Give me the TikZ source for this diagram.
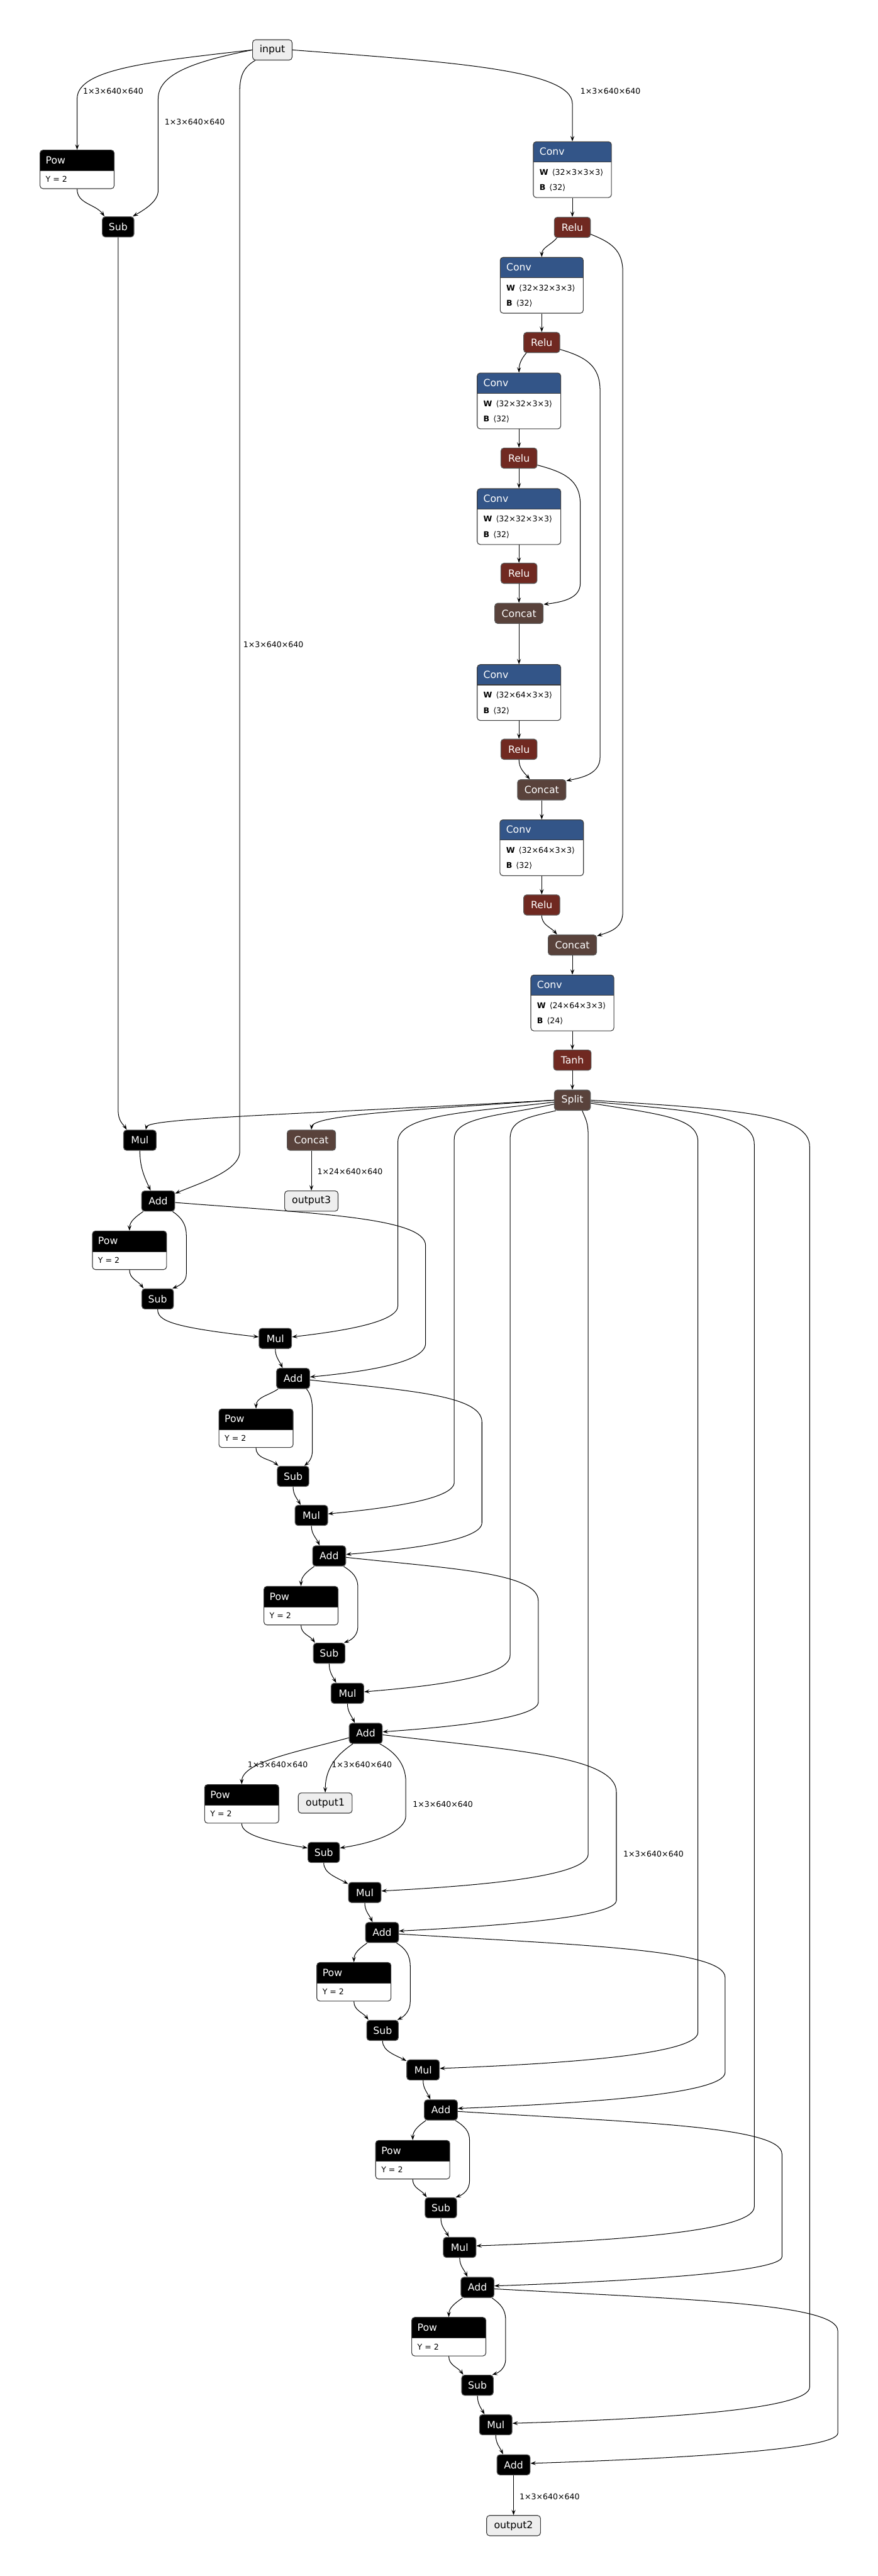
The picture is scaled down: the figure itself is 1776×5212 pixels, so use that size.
\documentclass[tikz,border=0pt]{standalone}
\usepackage{fontspec}
\setmainfont{DejaVu Sans}
\usetikzlibrary{arrows.meta}
\definecolor{convblue}{RGB}{51,85,136}
\definecolor{actred}{RGB}{112,41,33}
\definecolor{shapebrown}{RGB}{89,66,59}
\definecolor{iofill}{RGB}{238,238,238}
\definecolor{bordergray}{RGB}{60,60,60}
\newcommand{\convnode}[6]{%
  \node[convbox, minimum width=#4pt, anchor=north] (#1) at (#2,#3) {};
  \node[anchor=west, text=white] (#1-t) at ([xshift=13pt,yshift=-20.5pt]#1.north west) {Conv};
  \node[anchor=west, attr] (#1-w) at ([xshift=13pt,yshift=-63pt]#1.north west) {\textbf{W}\, ⟨#5⟩};
  \node[anchor=west, attr] (#1-b) at ([xshift=13pt,yshift=-94pt]#1.north west) {\textbf{B}\, ⟨#6⟩};
}
\newcommand{\pownode}[3]{%
  \node[powbox, anchor=north] (#1) at (#2,#3) {};
  \node[anchor=west, text=white] (#1-t) at ([xshift=12pt,yshift=-21pt]#1.north west) {Pow};
  \node[anchor=west, attr] (#1-y) at ([xshift=12pt,yshift=-60pt]#1.north west) {Y = 2};
}
\begin{document}
\begin{tikzpicture}[x=1pt, y=-1pt,
  every node/.style={font=\fontsize{20}{24}\selectfont, inner sep=0pt},
  attr/.style={font=\fontsize{16}{19}\selectfont, text=black},
  lbl/.style={font=\fontsize{16}{19}\selectfont, text=black, anchor=west},
  opbase/.style={draw=black!65, line width=1.4pt, rounded corners=6pt, minimum height=41pt, text=white},
  opblack/.style={opbase, fill=black},
  oprelu/.style={opbase, fill=actred},
  opshape/.style={opbase, fill=shapebrown},
  ionode/.style={draw=bordergray, line width=1.4pt, rounded corners=6pt, minimum height=41pt, fill=iofill, text=black},
  convbox/.style={draw=bordergray, line width=1.4pt, rounded corners=6pt, fill=white, minimum height=113pt,
    path picture={\fill[convblue, sharp corners] (path picture bounding box.north west) rectangle ([yshift=-41pt]path picture bounding box.north east);
      \draw[bordergray, line width=1.6pt, sharp corners] ([yshift=-41pt]path picture bounding box.north west) -- ([yshift=-41pt]path picture bounding box.north east);}},
  powbox/.style={draw=bordergray, line width=1.4pt, rounded corners=6pt, fill=white, minimum height=78pt, minimum width=150pt,
    path picture={\fill[black, sharp corners] (path picture bounding box.north west) rectangle ([yshift=-42pt]path picture bounding box.north east);
      \draw[bordergray, line width=1.6pt, sharp corners] ([yshift=-42pt]path picture bounding box.north west) -- ([yshift=-42pt]path picture bounding box.north east);}},
  conn/.style={draw=black, line width=1.3pt, -{Stealth[length=11pt, width=8pt, inset=4.5pt]}}
]
\fill[white] (0,0) rectangle (1776,5212);
\useasboundingbox (0,0) rectangle (1776,5212);

% ---------- nodes: top ----------
\node[ionode, minimum width=80pt] (input) at (551,101) {input};
\pownode{pow1}{156}{303}
\node[opblack, minimum width=64pt] (sub1) at (239,459) {Sub};

\convnode{conv1}{1158}{286}{158}{32×3×3×3}{32}
\node[oprelu, minimum width=73pt] (relu1) at (1158,460) {Relu};
\convnode{conv2}{1096}{520}{168}{32×32×3×3}{32}
\node[oprelu, minimum width=73pt] (relu2) at (1096,693) {Relu};
\convnode{conv3}{1050}{754}{169}{32×32×3×3}{32}
\node[oprelu, minimum width=73pt] (relu3) at (1050,927) {Relu};
\convnode{conv4}{1050}{988}{169}{32×32×3×3}{32}
\node[oprelu, minimum width=73pt] (relu4) at (1050,1160) {Relu};
\node[opshape, minimum width=98pt] (concat1) at (1050,1241) {Concat};
\convnode{conv5}{1050}{1344}{169}{32×64×3×3}{32}
\node[oprelu, minimum width=73pt] (relu5) at (1050,1516) {Relu};
\node[opshape, minimum width=98pt] (concat2) at (1096,1598) {Concat};
\convnode{conv6}{1096}{1658}{169}{32×64×3×3}{32}
\node[oprelu, minimum width=73pt] (relu6) at (1096,1831) {Relu};
\node[opshape, minimum width=98pt] (concat3) at (1158,1912) {Concat};
\convnode{conv7}{1158}{1972}{168}{24×64×3×3}{24}
\node[oprelu, minimum width=76pt] (tanh) at (1158,2145) {Tanh};
\node[opshape, minimum width=73pt] (split) at (1158,2226) {Split};

% ---------- nodes: iterations ----------
\node[opblack, minimum width=66pt] (mul1) at (283,2307) {Mul};
\node[opshape, minimum width=98pt] (concat4) at (630,2307) {Concat};
\node[ionode, minimum width=108pt] (output3) at (630,2430) {output3};
\node[opblack, minimum width=67pt] (add1) at (320,2430) {Add};

\pownode{pow2}{262}{2490}
\node[opblack, minimum width=64pt] (sub2) at (319,2628) {Sub};
\node[opblack, minimum width=66pt] (mul2) at (557,2708) {Mul};
\node[opblack, minimum width=67pt] (add2) at (593,2789) {Add};

\pownode{pow3}{518}{2850}
\node[opblack, minimum width=64pt] (sub3) at (593,2987) {Sub};
\node[opblack, minimum width=66pt] (mul3) at (630,3066) {Mul};
\node[opblack, minimum width=67pt] (add3) at (666,3148) {Add};

\pownode{pow4}{609}{3209}
\node[opblack, minimum width=64pt] (sub4) at (666,3345) {Sub};
\node[opblack, minimum width=66pt] (mul4) at (703,3426) {Mul};
\node[opblack, minimum width=67pt] (add4) at (740,3507) {Add};

\pownode{pow5}{489}{3610}
\node[ionode, minimum width=109pt] (output1) at (658,3648) {output1};
\node[opblack, minimum width=64pt] (sub5) at (655,3748) {Sub};
\node[opblack, minimum width=66pt] (mul5) at (738,3829) {Mul};
\node[opblack, minimum width=67pt] (add5) at (773,3910) {Add};

\pownode{pow6}{716}{3970}
\node[opblack, minimum width=64pt] (sub6) at (774,4108) {Sub};
\node[opblack, minimum width=66pt] (mul6) at (856,4188) {Mul};
\node[opblack, minimum width=67pt] (add6) at (892,4269) {Add};

\pownode{pow7}{835}{4330}
\node[opblack, minimum width=64pt] (sub7) at (892,4467) {Sub};
\node[opblack, minimum width=66pt] (mul7) at (930,4547) {Mul};
\node[opblack, minimum width=67pt] (add7) at (966,4628) {Add};

\pownode{pow8}{908}{4688}
\node[opblack, minimum width=64pt] (sub8) at (966,4826) {Sub};
\node[opblack, minimum width=66pt] (mul8) at (1003,4906) {Mul};
\node[opblack, minimum width=67pt] (add8) at (1039,4987) {Add};
\node[ionode, minimum width=109pt] (output2) at (1039,5110) {output2};

% ---------- edges: input ----------
\draw[conn] (input.west) .. controls (300,125) and (156,140) .. (156,200) -- (pow1.north);
\draw[conn] (input.west) .. controls (390,125) and (320,150) .. (320,200) -- (320,385) .. controls (320,405) and (300,420) .. ([xshift=-3pt]sub1.north east);
\draw[conn] ([xshift=6pt]input.south west) .. controls (495,135) and (485,150) .. (485,185) -- (485,2330) .. controls (485,2370) and (400,2395) .. ([yshift=-6pt]add1.north east);
\draw[conn] (input.east) .. controls (900,125) and (1158,140) .. (1158,210) -- (conv1.north);
\draw[conn] (pow1.south) to[out=-90, in=125] ([xshift=5pt]sub1.north west);
\draw[conn] (sub1.south) -- (239,2245) .. controls (239,2270) and (250,2275) .. ([xshift=7pt]mul1.north west);

% ---------- edges: conv stack ----------
\draw[conn] (conv1.south) -- (relu1.north);
\draw[conn] ([xshift=6pt]relu1.south west) to[out=-130, in=90] (conv2.north);
\draw[conn] ([yshift=-14pt]relu1.east) .. controls (1235,490) and (1260,505) .. (1260,550) -- (1260,1845) .. controls (1260,1878) and (1235,1885) .. ([yshift=-3pt]concat3.north east);
\draw[conn] (conv2.south) -- (relu2.north);
\draw[conn] ([xshift=6pt]relu2.south west) to[out=-130, in=90] (conv3.north);
\draw[conn] ([yshift=-14pt]relu2.east) .. controls (1185,722) and (1214,740) .. (1214,790) -- (1214,1532) .. controls (1214,1565) and (1180,1573) .. ([yshift=-3pt]concat2.north east);
\draw[conn] (conv3.south) -- (relu3.north);
\draw[conn] (relu3.south) -- (conv4.north);
\draw[conn] ([yshift=-14pt]relu3.east) .. controls (1140,955) and (1174,970) .. (1174,1020) -- (1174,1180) .. controls (1174,1210) and (1140,1218) .. ([yshift=-3pt]concat1.north east);
\draw[conn] (conv4.south) -- (relu4.north);
\draw[conn] (relu4.south) -- (concat1.north);
\draw[conn] (concat1.south) -- (conv5.north);
\draw[conn] (conv5.south) -- (relu5.north);
\draw[conn] (relu5.south) to[out=-90, in=130] ([xshift=-24pt]concat2.north);
\draw[conn] (concat2.south) -- (conv6.north);
\draw[conn] (conv6.south) -- (relu6.north);
\draw[conn] (relu6.south) to[out=-90, in=130] ([xshift=-31pt]concat3.north);
\draw[conn] (concat3.south) -- (conv7.north);
\draw[conn] (conv7.south) -- (tanh.north);
\draw[conn] (tanh.south) -- (split.north);

% ---------- edges: split ----------
\draw[conn] (split.west) .. controls (600,2255) and (300,2262) .. ([xshift=12pt]mul1.north);
\draw[conn] (split.west) .. controls (850,2245) and (632,2255) .. (concat4.north);
\draw[conn] (concat4.south) -- (output3.north);
\draw[conn] ([yshift=-4pt]split.west) .. controls (950,2250) and (805,2255) .. (805,2310) -- (805,2642) .. controls (805,2676) and (687,2694) .. ([yshift=3pt]mul2.east);
\draw[conn] ([yshift=-8pt]split.west) .. controls (1010,2258) and (919,2260) .. (919,2305) -- (919,2999) .. controls (919,3034) and (778,3052) .. ([yshift=3pt]mul3.east);
\draw[conn] ([xshift=4pt]split.south west) .. controls (1060,2262) and (1032,2268) .. (1032,2305) -- (1032,3349) .. controls (1032,3394) and (869,3412) .. ([yshift=3pt]mul4.east);
\draw[conn] ([xshift=20pt]split.south) .. controls (1185,2265) and (1190,2270) .. (1190,2300) -- (1190,3751) .. controls (1190,3798) and (959,3816) .. ([yshift=3pt]mul5.east);
\draw[conn] ([yshift=-6pt]split.east) .. controls (1340,2255) and (1412,2262) .. (1412,2310) -- (1412,4112) .. controls (1412,4158) and (1124,4176) .. ([yshift=3pt]mul6.east);
\draw[conn] ([yshift=-3pt]split.east) .. controls (1420,2248) and (1526,2258) .. (1526,2315) -- (1526,4465) .. controls (1526,4517) and (1216,4535) .. ([yshift=3pt]mul7.east);
\draw[conn] (split.east) .. controls (1500,2245) and (1638,2255) .. (1638,2320) -- (1638,4830) .. controls (1638,4877) and (1307,4895) .. ([yshift=3pt]mul8.east);

% ---------- edges: add chain ----------
\draw[conn] ([yshift=-3pt]add1.east) .. controls (633,2455) and (861,2463) .. (861,2520) -- (861,2718) .. controls (861,2758) and (732,2776) .. ([yshift=3pt]add2.east);
\draw[conn] ([yshift=-3pt]add2.east) .. controls (818,2813) and (975,2822) .. (975,2877) -- (975,3081) .. controls (975,3117) and (824,3135) .. ([yshift=3pt]add3.east);
\draw[conn] ([yshift=-3pt]add3.east) .. controls (914,3174) and (1089,3182) .. (1089,3239) -- (1089,3444) .. controls (1089,3476) and (916,3494) .. ([yshift=3pt]add4.east);
\draw[conn] ([yshift=-3pt]add4.east) .. controls (1034,3541) and (1247,3553) .. (1247,3626) -- (1247,3845) .. controls (1247,3879) and (1006,3897) .. ([yshift=3pt]add5.east);
\draw[conn] ([yshift=-3pt]add5.east) .. controls (1170,3935) and (1467,3944) .. (1467,4001) -- (1467,4193) .. controls (1467,4238) and (1169,4256) .. ([yshift=3pt]add6.east);
\draw[conn] ([yshift=-3pt]add6.east) .. controls (1287,4294) and (1582,4302) .. (1582,4358) -- (1582,4566) .. controls (1582,4598) and (1262,4616) .. ([yshift=3pt]add7.east);
\draw[conn] ([yshift=-3pt]add7.east) .. controls (1382,4652) and (1695,4660) .. (1695,4716) -- (1695,4923) .. controls (1695,4957) and (1353,4975) .. ([yshift=3pt]add8.east);
\draw[conn] (add8.south) -- (output2.north);

% ---------- edges: blocks ----------
\draw[conn] (mul1.south) to[out=-90, in=115] ([xshift=19pt]add1.north west);
\draw[conn] ([xshift=4pt]add1.south west) to[out=-145, in=90] (pow2.north);
\draw[conn] ([xshift=-5pt]add1.south east) .. controls (365,2462) and (377,2475) .. (377,2500) -- (377,2577) .. controls (377,2592) and (366,2600) .. ([xshift=-3pt]sub2.north east);
\draw[conn] (pow2.south) to[out=-90, in=125] ([xshift=4pt]sub2.north west);
\draw[conn] (sub2.south) .. controls (319,2672) and (345,2685) .. ([yshift=3pt]mul2.west);
\draw[conn] (mul2.south) to[out=-90, in=115] ([xshift=13pt]add2.north west);

\draw[conn] ([xshift=4pt]add2.south west) to[out=-145, in=90] (pow3.north);
\draw[conn] ([xshift=-7pt]add2.south east) .. controls (628,2820) and (632,2832) .. (632,2855) -- (632,2935) .. controls (632,2950) and (625,2958) .. ([xshift=-10pt]sub3.north east);
\draw[conn] (pow3.south) to[out=-90, in=140] ([xshift=3pt]sub3.north west);
\draw[conn] (sub3.south) to[out=-90, in=120] ([xshift=12pt]mul3.north west);
\draw[conn] (mul3.south) to[out=-90, in=115] ([xshift=15pt]add3.north west);

\draw[conn] ([xshift=4pt]add3.south west) to[out=-145, in=90] (pow4.north);
\draw[conn] ([xshift=-5pt]add3.south east) .. controls (712,3180) and (724,3190) .. (724,3212) -- (724,3291) .. controls (724,3308) and (712,3318) .. ([xshift=-3pt]sub4.north east);
\draw[conn] (pow4.south) to[out=-90, in=125] ([xshift=4pt]sub4.north west);
\draw[conn] (sub4.south) to[out=-90, in=120] ([xshift=11pt]mul4.north west);
\draw[conn] (mul4.south) to[out=-90, in=115] ([xshift=12pt]add4.north west);

\draw[conn] ([yshift=-9pt]add4.west) .. controls (600,3545) and (489,3565) .. (pow5.north);
\draw[conn] ([xshift=8pt]add4.south west) .. controls (690,3545) and (658,3570) .. (output1.north);
\draw[conn] ([xshift=-6pt]add4.south east) .. controls (800,3545) and (821,3570) .. (821,3605) -- (821,3674) .. controls (821,3705) and (760,3728) .. ([yshift=9pt]sub5.east);
\draw[conn] (pow5.south) .. controls (489,3708) and (520,3722) .. ([yshift=9pt]sub5.west);
\draw[conn] (sub5.south) .. controls (655,3790) and (680,3798) .. ([yshift=-4pt]mul5.north west);
\draw[conn] (mul5.south) to[out=-90, in=115] ([xshift=15pt]add5.north west);

\draw[conn] ([xshift=4pt]add5.south west) to[out=-145, in=90] (pow6.north);
\draw[conn] ([xshift=-5pt]add5.south east) .. controls (820,3942) and (830,3955) .. (830,3979) -- (830,4050) .. controls (830,4068) and (818,4080) .. ([xshift=-3pt]sub6.north east);
\draw[conn] (pow6.south) to[out=-90, in=125] ([xshift=4pt]sub6.north west);
\draw[conn] (sub6.south) .. controls (774,4150) and (800,4158) .. ([yshift=-3pt]mul6.north west);
\draw[conn] (mul6.south) to[out=-90, in=115] ([xshift=13pt]add6.north west);

\draw[conn] ([xshift=4pt]add6.south west) to[out=-145, in=90] (pow7.north);
\draw[conn] ([xshift=-5pt]add6.south east) .. controls (940,4302) and (950,4312) .. (950,4331) -- (950,4412) .. controls (950,4430) and (938,4440) .. ([xshift=-3pt]sub7.north east);
\draw[conn] (pow7.south) to[out=-90, in=125] ([xshift=4pt]sub7.north west);
\draw[conn] (sub7.south) to[out=-90, in=120] ([xshift=12pt]mul7.north west);
\draw[conn] (mul7.south) to[out=-90, in=115] ([xshift=14pt]add7.north west);

\draw[conn] ([xshift=4pt]add7.south west) to[out=-145, in=90] (pow8.north);
\draw[conn] ([xshift=-5pt]add7.south east) .. controls (1013,4662) and (1023,4672) .. (1023,4695) -- (1023,4773) .. controls (1023,4790) and (1011,4800) .. ([xshift=-3pt]sub8.north east);
\draw[conn] (pow8.south) to[out=-90, in=125] ([xshift=4pt]sub8.north west);
\draw[conn] (sub8.south) to[out=-90, in=120] ([xshift=11pt]mul8.north west);
\draw[conn] (mul8.south) to[out=-90, in=115] ([xshift=13pt]add8.north west);

% ---------- labels ----------
\node[lbl] (l1) at (168,184) {1×3×640×640};
\node[lbl] (l2) at (333,247) {1×3×640×640};
\node[lbl] (l3) at (492,1304) {1×3×640×640};
\node[lbl] (l4) at (1174,184) {1×3×640×640};
\node[lbl] (l5) at (642,2371) {1×24×640×640};
\node[lbl] (l6) at (501,3570) {1×3×640×640};
\node[lbl] (l7) at (671,3570) {1×3×640×640};
\node[lbl] (l8) at (835,3650) {1×3×640×640};
\node[lbl] (l9) at (1261,3751) {1×3×640×640};
\node[lbl] (l10) at (1051,5051) {1×3×640×640};
\end{tikzpicture}
\end{document}
